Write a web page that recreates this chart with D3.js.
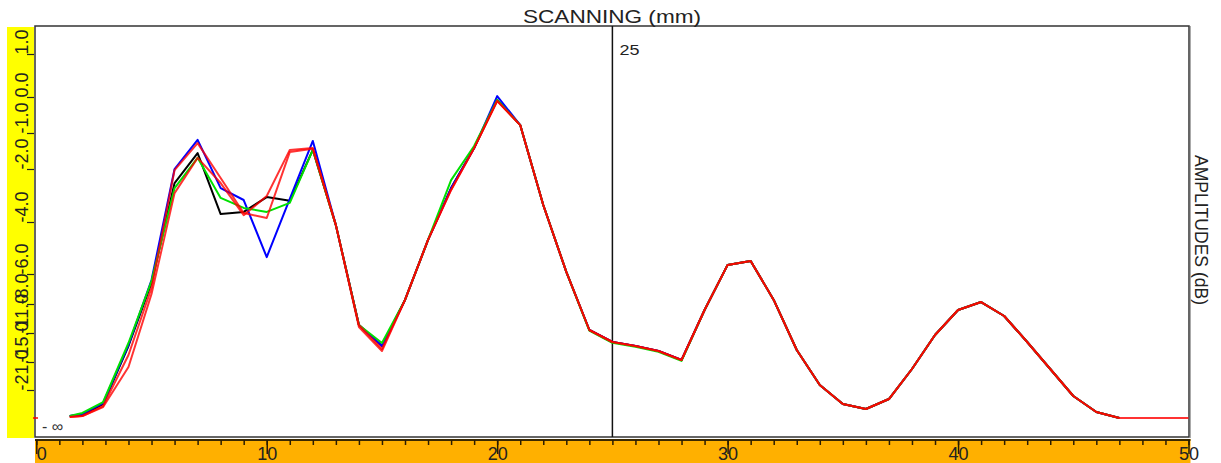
<!DOCTYPE html>
<html><head><meta charset="utf-8">
<script src="https://cdn.jsdelivr.net/npm/d3@7"></script>
<style>
html,body{margin:0;padding:0;background:#fff;}
svg{display:block;font-family:"Liberation Sans",Arial,sans-serif;}
</style></head><body>
<svg id="chart" width="1221" height="463"></svg>
<script>
const NEG_INF = -Infinity;

// scanning positions (mm)
const scanPositions = [1.45, 2, 2.9, 4, 5, 6, 7, 8, 9, 10, 11, 12, 13, 14, 15, 16, 17, 18, 19, 20,
  21, 22, 23, 24, 25, 26, 27, 28, 29, 30, 31, 32, 33, 34, 35, 36, 37, 38, 39, 40,
  41, 42, 43, 44, 45, 46, 47, 48, 49, 50];

// amplitudes (dB) per series
const blackSeries = [-29.36, -29.04, -25.5, -12.79, -6.6, -2.53, -1.56, -3.7, -3.62, -3.06, -3.2, -1.47,
  -4.12, -10.17, -12.79, -7.73, -4.69, -2.72, -1.42, -0.08, -0.78, -3.36, -5.92, -10.69, -12.24, -12.79,
  -13.48, -14.72, -8.62, -5.65, -5.5, -7.73, -13.34, -19.93, -25.5, -27.1, -23.9, -16.5, -11.28, -8.62,
  -7.87, -9.24, -12.24, -16.5, -22.93, -28.07, NEG_INF, null, null, null];
const blueSeries = [-29.36, -28.71, -25.18, -12.66, -6.4, -2.0, -1.19, -2.72, -3.17, -5.35, -3.13, -1.22,
  -4.12, -10.17, -12.79, -7.73, -4.69, -2.72, -1.42, 0.02, -0.78, -3.36, -5.92, -10.69, -12.24, -12.79,
  -13.48, -14.72, -8.62, -5.65, -5.5, -7.73, -13.34, -19.93, -25.5, -27.1, -23.9, -16.5, -11.28, -8.62,
  -7.87, -9.24, -12.24, -16.5, -22.93, -28.07, NEG_INF, null, null, null];
const greenSeries = [-29.36, -28.39, -24.86, -12.38, -6.47, -2.72, -1.69, -3.09, -3.47, -3.62, -3.28, -1.47,
  -4.12, -10.17, -12.38, -7.73, -4.69, -2.42, -1.36, -0.08, -0.78, -3.36, -5.92, -10.75, -12.35, -12.9,
  -13.6, -14.85, -8.62, -5.65, -5.5, -7.73, -13.34, -19.93, -25.5, -27.1, -23.9, -16.5, -11.28, -8.62,
  -7.87, -9.24, -12.24, -16.5, -22.93, -28.07, NEG_INF, null, null, null];
const redSeriesA = [-29.68, -29.36, -26.14, -14.03, -6.93, -2.04, -1.28, -2.34, -3.66, -3.85, -1.53, -1.44,
  -4.12, -10.38, -13.48, -7.73, -4.69, -2.79, -1.42, -0.11, -0.78, -3.36, -5.92, -10.69, -12.24, -12.79,
  -13.48, -14.72, -8.62, -5.65, -5.5, -7.73, -13.34, -19.93, -25.5, -27.1, -23.9, -16.5, -11.28, -8.62,
  -7.87, -9.24, -12.24, -16.5, -22.93, -28.07, NEG_INF, NEG_INF, NEG_INF, NEG_INF];
const redSeriesB = [-29.68, -29.36, -26.46, -16.07, -7.33, -2.91, -1.69, -2.53, -3.74, -3.02, -1.47, -1.42,
  -4.12, -10.17, -13.2, -7.73, -4.69, -2.79, -1.42, -0.11, -0.78, -3.36, -5.92, -10.69, -12.24, -12.79,
  -13.48, -14.72, -8.62, -5.65, -5.5, -7.73, -13.34, -19.93, -25.5, -27.1, -23.9, -16.5, -11.28, -8.62,
  -7.87, -9.24, -12.24, -16.5, -22.93, -28.07, NEG_INF, null, null, null];

const seriesColors = ["#000000", "#0000ff", "#00e000", "#ff0000", "#ff0000"];

// ticks / labels
const xLabelTicks = [0, 10, 20, 30, 40, 50];
const xMinorTicks = d3.range(0, 51, 1);
const yTicks = [1, 0, -1, -2, -4, -6, -8, -11, -15, -21];
const yFloorDb = -30;   // "-∞" level
const cursorPos = 25;
const titleText = "SCANNING (mm)";
const yLabelText = "AMPLITUDES (dB)";

// ---- layout
const svg = d3.select("#chart");
const L = 35, R = 1189, T = 26, B = 437;

const x = d3.scaleLinear().domain([0, 50]).range([36.3, 1188.5]);
const y = d3.scaleLinear()
  .domain([yFloorDb, -21, -15, -11, -8, -6, -4, -2, -1, 0, 1])
  .range([418, 390, 362, 333, 304, 274, 222, 169, 133, 97, 54])
  .clamp(true);

// background bands
svg.append("rect").attr("x", 7).attr("y", 27).attr("width", 27).attr("height", 411).attr("fill", "#ffff00");
svg.append("rect").attr("x", L).attr("y", 439).attr("width", R - L + 1.5).attr("height", 24).attr("fill", "#ffb000");

// plot frame
svg.append("rect").attr("x", L).attr("y", T).attr("width", R - L).attr("height", B - T)
  .attr("fill", "#fff").attr("stroke", "#333").attr("stroke-width", 1.5);
svg.append("line").attr("x1", R + 1.5).attr("x2", R + 1.5).attr("y1", T).attr("y2", B + 1)
  .attr("stroke", "#aaa").attr("stroke-width", 1);

svg.append("clipPath").attr("id", "clip").append("rect")
  .attr("x", L + 1).attr("y", T + 1).attr("width", R - L - 1).attr("height", B - T - 1);

// cursor line
svg.append("line").attr("x1", x(cursorPos)).attr("x2", x(cursorPos)).attr("y1", T).attr("y2", B)
  .attr("stroke", "#111").attr("stroke-width", 1.5);
svg.append("text").attr("x", x(cursorPos) + 7).attr("y", 55).attr("font-size", 14)
  .attr("textLength", 20).attr("lengthAdjust", "spacingAndGlyphs").attr("fill", "#222").text(String(cursorPos));

// series
const allSeries = [blackSeries, blueSeries, greenSeries, redSeriesB, redSeriesA];
const line = d3.line()
  .defined(d => d[1] != null)
  .x(d => x(d[0]))
  .y(d => y(d[1]));
const gLines = svg.append("g").attr("clip-path", "url(#clip)");
allSeries.forEach((s, i) => {
  const pts = scanPositions.map((p, k) => [p, s[k]]);
  gLines.append("path").datum(pts)
    .attr("d", line)
    .attr("fill", "none")
    .attr("stroke", seriesColors[i])
    .attr("stroke-width", 2)
    .attr("stroke-opacity", i >= 3 ? 0.8 : 1)
    .attr("stroke-linejoin", "round");
});

// -∞ marker and label
svg.append("line").attr("x1", 33).attr("x2", 38).attr("y1", y(NEG_INF)).attr("y2", y(NEG_INF))
  .attr("stroke", "#ff0000").attr("stroke-width", 1.5);
svg.append("text").attr("x", 42).attr("y", 432).attr("font-size", 16).attr("fill", "#333").text("- ∞");

// y axis (left, rotated labels)
const gy = svg.append("g").attr("transform", `translate(34,0)`)
  .call(d3.axisLeft(y).tickValues(yTicks).tickSize(7).tickFormat(d => d.toFixed(1)));
gy.select(".domain").remove();
gy.selectAll(".tick line").attr("stroke", "#222").attr("stroke-width", 1.2);
gy.selectAll(".tick text")
  .attr("x", 0).attr("y", -6).attr("dy", 0)
  .attr("transform", "rotate(-90)")
  .attr("text-anchor", "start")
  .attr("font-size", 18)
  .attr("font-family", "Liberation Sans, Arial, sans-serif")
  .attr("fill", "#222");

// x axis (bottom orange band)
const axisY = 440;
svg.append("line").attr("x1", L).attr("x2", R + 1.5).attr("y1", axisY).attr("y2", axisY)
  .attr("stroke", "#3a2800").attr("stroke-width", 2);
const gxMinor = svg.append("g").attr("transform", `translate(0,${axisY})`)
  .call(d3.axisBottom(x).tickValues(xMinorTicks).tickSize(5).tickFormat(""));
gxMinor.select(".domain").remove();
gxMinor.selectAll(".tick line").attr("stroke", "#2a1c00").attr("stroke-width", 1.5);
const gxMajor = svg.append("g").attr("transform", `translate(0,${axisY})`)
  .call(d3.axisBottom(x).tickValues(xLabelTicks).tickSize(14).tickFormat(d3.format("d")));
gxMajor.select(".domain").remove();
gxMajor.selectAll(".tick line").attr("stroke", "#2a1c00").attr("stroke-width", 1.5);
gxMajor.selectAll(".tick text")
  .attr("y", 19.5).attr("dy", 0)
  .attr("font-size", 18)
  .attr("font-family", "Liberation Sans, Arial, sans-serif")
  .attr("fill", "#222")
  .attr("text-anchor", d => d === 0 ? "start" : "middle");

// titles
svg.append("text").attr("x", 523).attr("y", 22.5).attr("font-size", 17.5)
  .attr("textLength", 178).attr("lengthAdjust", "spacingAndGlyphs").attr("fill", "#222").text(titleText);
svg.append("text").attr("transform", "translate(1195,155) rotate(90)")
  .attr("font-size", 18).attr("textLength", 150).attr("lengthAdjust", "spacingAndGlyphs")
  .attr("fill", "#222").text(yLabelText);
</script>
</body></html>
